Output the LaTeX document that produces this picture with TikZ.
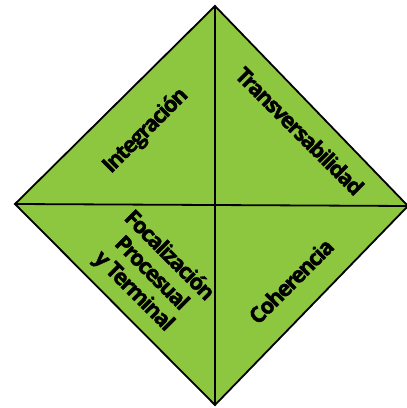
\documentclass[tikz,border=0pt]{standalone}
\usepackage{fontspec}
\setmainfont{Open Sans}[LetterSpace=-7, BoldFeatures={FakeBold=1.6}]
\definecolor{leaf}{HTML}{8DC63F}
\begin{document}
\begin{tikzpicture}[x=1pt,y=1pt,
  lbl/.style={font=\bfseries\fontsize{22}{24}\selectfont, align=center, inner sep=0pt}]
\useasboundingbox (0,0) rectangle (407,408);
\coordinate (T) at (215,402);
\coordinate (L) at (15,204);
\coordinate (R) at (408,202);
\coordinate (B) at (215,3);
\fill[leaf] (T) -- (R) -- (B) -- (L) -- cycle;
\draw[line width=1.8pt, line join=miter] (T) -- (R) -- (B) -- (L) -- cycle;
\draw[line width=1.8pt] (T) -- (B);
\draw[line width=1.8pt] (L) -- (R);
\node[lbl, rotate=45] (int) at (146,277) {Integración};
\node[lbl, rotate=-45] (tra) at (300,277) {Transversabilidad};
\node[lbl, rotate=45] (coh) at (291,127) {Coherencia};
\node[lbl, rotate=-45, font=\bfseries\fontsize{22}{25}\selectfont] (foc) at (151,134) {Focalización\\Procesual\\y Terminal};
\end{tikzpicture}
\end{document}
